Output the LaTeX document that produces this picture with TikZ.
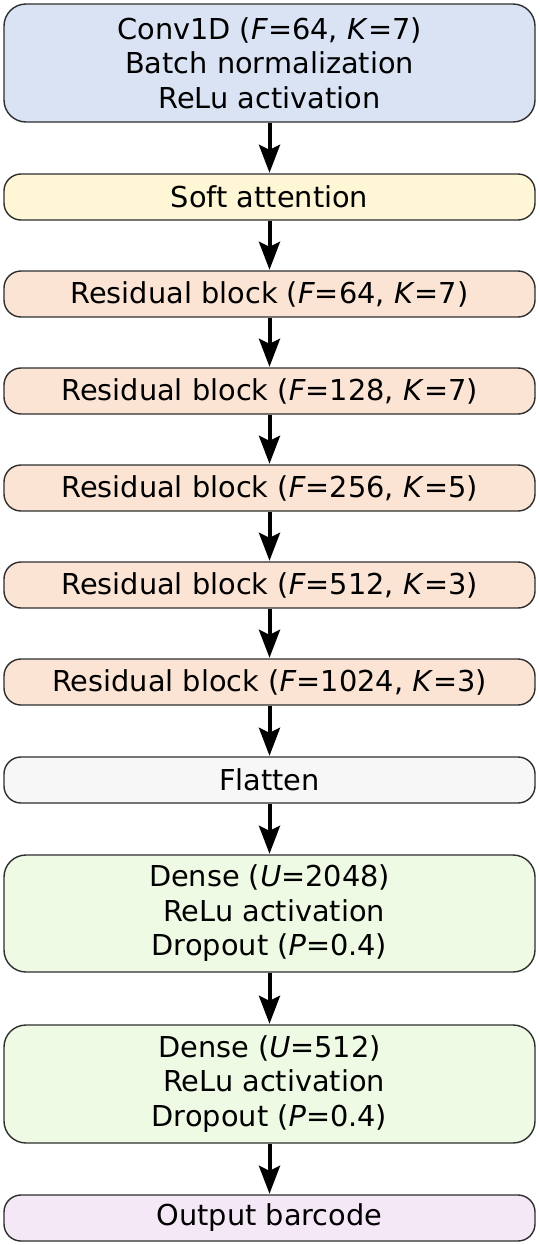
\documentclass[tikz,border=0pt]{standalone}
\usepackage{fontspec}
\setmainfont{DejaVu Sans}
\usetikzlibrary{arrows.meta}
\definecolor{cblue}{HTML}{D9E3F4}
\definecolor{cyellow}{HTML}{FFF6D5}
\definecolor{cpeach}{HTML}{FCE4D5}
\definecolor{cgray}{HTML}{F7F7F7}
\definecolor{cgreen}{HTML}{EFFAE5}
\definecolor{cpurple}{HTML}{F4E8F6}
\definecolor{cborder}{HTML}{2E2E2E}
\begin{document}
\begin{tikzpicture}[x=1pt,y=1pt,
  layer/.style={draw=cborder, line width=1.4pt, minimum width=531pt, inner sep=0pt,
    align=center, font=\fontsize{28.8}{34.5}\selectfont},
  thin/.style={layer, minimum height=46pt, rounded corners=17pt},
  tall/.style={layer, minimum height=118pt, rounded corners=22pt},
  flow/.style={line width=4pt, -{Stealth[length=28pt,width=21pt,inset=5pt]}, shorten >=0.5pt}]
\useasboundingbox (0,0) rectangle (540,-1245);
\node[tall, fill=cblue] (conv) at (269.5,-63) {Conv1D (\textit{F}=64, \textit{K}=7)\\Batch normalization\\ReLu activation};
\node[thin, fill=cyellow] (att) at (269.5,-197) {Soft attention};
\node[thin, fill=cpeach] (r1) at (269.5,-294) {Residual block (\textit{F}=64, \textit{K}=7)};
\node[thin, fill=cpeach] (r2) at (269.5,-391) {Residual block (\textit{F}=128, \textit{K}=7)};
\node[thin, fill=cpeach] (r3) at (269.5,-488) {Residual block (\textit{F}=256, \textit{K}=5)};
\node[thin, fill=cpeach] (r4) at (269.5,-585) {Residual block (\textit{F}=512, \textit{K}=3)};
\node[thin, fill=cpeach] (r5) at (269.5,-682) {Residual block (\textit{F}=1024, \textit{K}=3)};
\node[thin, fill=cgray] (flat) at (269.5,-780) {Flatten};
\node[tall, fill=cgreen, minimum height=117pt] (d1) at (269.5,-913.5) {Dense (\textit{U}=2048)\\\hspace*{0.32em}ReLu activation\\Dropout (\textit{P}=0.4)};
\node[tall, fill=cgreen] (d2) at (269.5,-1084) {Dense (\textit{U}=512)\\\hspace*{0.32em}ReLu activation\\Dropout (\textit{P}=0.4)};
\node[thin, fill=cpurple] (out) at (269.5,-1218) {Output barcode};
\foreach \a/\b in {conv/att, att/r1, r1/r2, r2/r3, r3/r4, r4/r5, r5/flat, flat/d1, d1/d2, d2/out}
  \draw[flow] (\a.south) -- (\b.north);
\end{tikzpicture}
\end{document}
